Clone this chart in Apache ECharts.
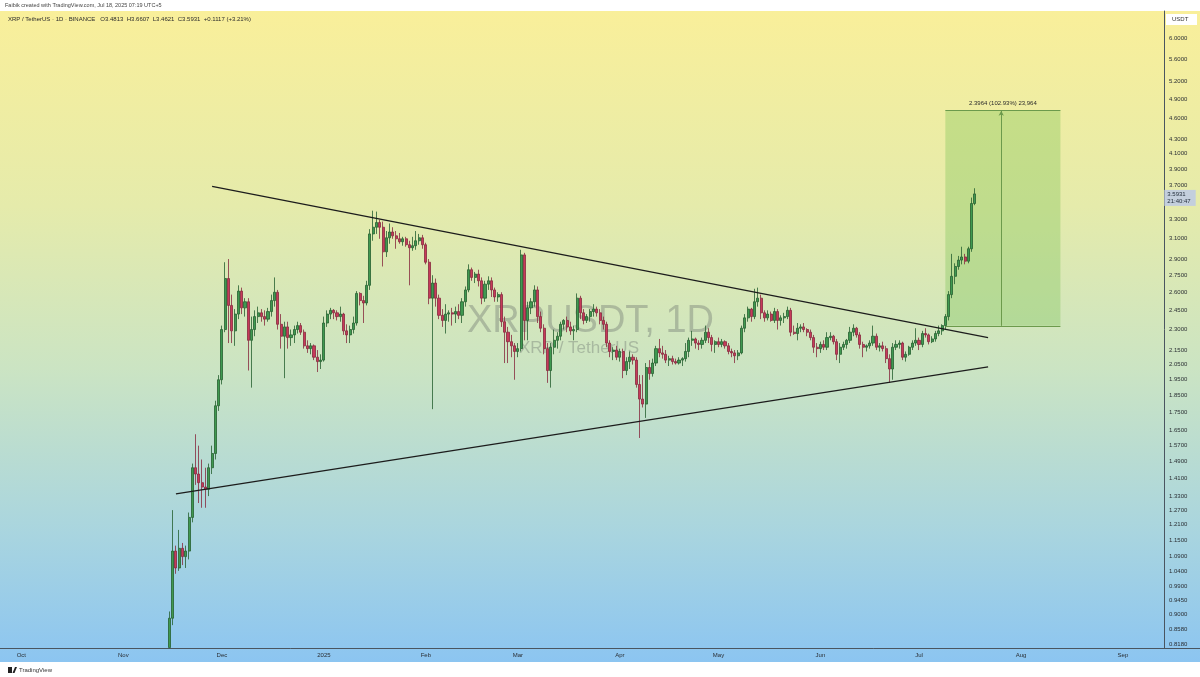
<!DOCTYPE html>
<html><head><meta charset="utf-8">
<script src="https://cdn.jsdelivr.net/npm/echarts@6/dist/echarts.min.js"></script>
<style>html,body{margin:0;padding:0;background:#fff}#c{width:1200px;height:677px}</style>
</head><body><div id="c"></div>
<script>
// ---------- axis data ----------
const startDate = '2024-09-25';
const dayCount = 354;
const firstCandleDate = '2024-11-15';
const monthTicks = ['2024-10-01','2024-11-01','2024-12-01','2025-01-01','2025-02-01','2025-03-01','2025-04-01','2025-05-01','2025-06-01','2025-07-01','2025-08-01','2025-09-01'];
const monthTickLabels = ['Oct','Nov','Dec','2025','Feb','Mar','Apr','May','Jun','Jul','Aug','Sep'];
const priceTicks = [6.0,5.6,5.2,4.9,4.6,4.3,4.1,3.9,3.7,3.3,3.1,2.9,2.75,2.6,2.45,2.3,2.15,2.05,1.95,1.85,1.75,1.65,1.57,1.49,1.41,1.33,1.27,1.21,1.15,1.09,1.04,0.99,0.945,0.90,0.858,0.818];
const priceMin = 0.807, priceMax = 6.557;

// ---------- daily candles [open, high, low, close] ----------
const candlesNov = [
[0.808,0.91,0.808,0.89],[0.89,1.27,0.87,1.11],[1.11,1.13,1.03,1.05],[1.05,1.19,1.04,1.12],
[1.12,1.14,1.06,1.09],[1.09,1.13,1.05,1.11],[1.11,1.26,1.08,1.24],[1.24,1.48,1.22,1.46],
[1.46,1.63,1.38,1.43],[1.43,1.57,1.30,1.39],[1.39,1.50,1.28,1.37],[1.37,1.46,1.28,1.36],
[1.36,1.48,1.33,1.46],[1.46,1.57,1.43,1.53],[1.53,1.82,1.50,1.79],[1.79,1.98,1.76,1.95]];
const candlesDec = [
[1.95,2.33,1.92,2.30],[2.30,2.87,2.28,2.72],[2.72,2.90,2.20,2.49],[2.49,2.58,2.20,2.29],
[2.29,2.46,2.18,2.42],[2.42,2.66,2.38,2.61],[2.61,2.64,2.42,2.47],[2.47,2.55,2.40,2.52],
[2.52,2.55,2.01,2.22],[2.22,2.40,1.90,2.30],[2.30,2.45,2.25,2.40],[2.40,2.48,2.35,2.43],
[2.43,2.46,2.36,2.40],[2.40,2.45,2.33,2.38],[2.38,2.47,2.36,2.44],[2.44,2.58,2.40,2.53],
[2.53,2.73,2.48,2.60],[2.60,2.62,2.30,2.34],[2.34,2.42,2.16,2.25],[2.25,2.36,1.96,2.32],
[2.32,2.36,2.16,2.24],[2.24,2.30,2.18,2.26],[2.26,2.33,2.20,2.30],[2.30,2.36,2.27,2.33],
[2.33,2.35,2.26,2.28],[2.28,2.30,2.16,2.18],[2.18,2.22,2.13,2.16],[2.16,2.20,2.12,2.18],
[2.18,2.19,2.08,2.10],[2.10,2.15,2.00,2.07],[2.07,2.12,2.02,2.08]];
const candlesJan = [
[2.08,2.40,2.07,2.35],[2.35,2.45,2.32,2.42],[2.42,2.47,2.38,2.45],[2.45,2.46,2.38,2.43],
[2.43,2.45,2.37,2.40],[2.40,2.48,2.36,2.42],[2.42,2.43,2.26,2.29],[2.29,2.34,2.20,2.26],
[2.26,2.33,2.20,2.30],[2.30,2.40,2.27,2.35],[2.35,2.61,2.33,2.59],[2.59,2.60,2.49,2.53],
[2.53,2.57,2.35,2.51],[2.51,2.70,2.49,2.66],[2.66,3.20,2.62,3.15],[3.15,3.40,3.08,3.22],
[3.22,3.39,3.15,3.27],[3.27,3.30,3.10,3.22],[3.22,3.28,2.83,2.97],[2.97,3.18,2.92,3.11],
[3.11,3.26,3.05,3.17],[3.17,3.22,3.10,3.13],[3.13,3.18,3.00,3.10],[3.10,3.16,3.05,3.07],
[3.07,3.12,3.03,3.10],[3.10,3.12,3.02,3.04],[3.04,3.08,2.66,3.01],[3.01,3.12,2.98,3.03],
[3.03,3.18,2.99,3.08],[3.08,3.15,3.04,3.11],[3.11,3.14,3.00,3.04]];
const candlesFeb = [
[3.04,3.06,2.85,2.87],[2.87,2.90,2.50,2.55],[2.55,2.75,1.77,2.68],[2.68,2.72,2.48,2.55],
[2.55,2.58,2.38,2.41],[2.41,2.46,2.32,2.37],[2.37,2.50,2.27,2.42],[2.42,2.45,2.36,2.43],
[2.43,2.47,2.33,2.42],[2.42,2.48,2.35,2.44],[2.44,2.50,2.38,2.41],[2.41,2.55,2.35,2.52],
[2.52,2.65,2.48,2.62],[2.62,2.85,2.60,2.80],[2.80,2.82,2.70,2.73],[2.73,2.78,2.68,2.76],
[2.76,2.80,2.65,2.70],[2.70,2.73,2.50,2.55],[2.55,2.70,2.52,2.67],[2.67,2.74,2.62,2.70],
[2.70,2.73,2.56,2.62],[2.62,2.64,2.52,2.56],[2.56,2.60,2.52,2.58],[2.58,2.60,2.32,2.36],
[2.36,2.40,2.06,2.28],[2.28,2.32,2.06,2.21],[2.21,2.26,2.10,2.18],[2.18,2.20,1.95,2.14]];
const candlesMar = [
[2.14,2.20,2.10,2.16],[2.16,2.99,2.14,2.94],[2.94,2.96,2.22,2.37],[2.37,2.52,2.22,2.47],
[2.47,2.55,2.42,2.52],[2.52,2.66,2.48,2.62],[2.62,2.65,2.35,2.40],[2.40,2.44,2.28,2.31],
[2.31,2.34,2.12,2.16],[2.16,2.20,1.93,2.01],[2.01,2.20,1.90,2.17],[2.17,2.30,2.12,2.22],
[2.22,2.28,2.16,2.25],[2.25,2.36,2.22,2.34],[2.34,2.38,2.30,2.37],[2.37,2.40,2.28,2.32],
[2.32,2.36,2.26,2.29],[2.29,2.33,2.22,2.30],[2.30,2.59,2.28,2.55],[2.55,2.57,2.38,2.43],
[2.43,2.46,2.34,2.37],[2.37,2.42,2.35,2.40],[2.40,2.46,2.36,2.44],[2.44,2.50,2.40,2.46],
[2.46,2.48,2.40,2.43],[2.43,2.46,2.34,2.37],[2.37,2.40,2.30,2.34],[2.34,2.36,2.17,2.20],
[2.20,2.22,2.10,2.14],[2.14,2.17,2.08,2.15],[2.15,2.18,2.08,2.10]];
const candlesApr = [
[2.10,2.16,2.07,2.14],[2.14,2.16,1.96,2.01],[2.01,2.10,1.98,2.07],[2.07,2.14,2.02,2.10],
[2.10,2.12,2.05,2.08],[2.08,2.10,1.90,1.92],[1.92,1.98,1.61,1.83],[1.83,1.98,1.78,1.80],
[1.80,2.06,1.72,2.03],[2.03,2.08,1.95,1.99],[1.99,2.09,1.97,2.06],[2.06,2.18,2.04,2.16],
[2.16,2.23,2.10,2.13],[2.13,2.18,2.09,2.12],[2.12,2.15,2.06,2.08],[2.08,2.11,2.04,2.09],
[2.09,2.11,2.05,2.07],[2.07,2.09,2.05,2.06],[2.06,2.10,2.05,2.08],[2.08,2.10,2.04,2.09],
[2.09,2.20,2.07,2.14],[2.14,2.24,2.10,2.22],[2.22,2.29,2.18,2.23],[2.23,2.24,2.16,2.20],
[2.20,2.22,2.15,2.19],[2.19,2.24,2.16,2.22],[2.22,2.33,2.20,2.28],[2.28,2.31,2.20,2.24],
[2.24,2.26,2.14,2.19],[2.19,2.22,2.13,2.21]];
const candlesMay = [
[2.21,2.24,2.17,2.19],[2.19,2.23,2.17,2.21],[2.21,2.22,2.16,2.18],[2.18,2.20,2.12,2.14],
[2.14,2.16,2.10,2.13],[2.13,2.15,2.06,2.11],[2.11,2.15,2.08,2.13],[2.13,2.33,2.12,2.31],
[2.31,2.42,2.28,2.39],[2.39,2.48,2.36,2.46],[2.46,2.47,2.36,2.40],[2.40,2.63,2.38,2.52],
[2.52,2.64,2.48,2.55],[2.55,2.58,2.38,2.43],[2.43,2.45,2.36,2.39],[2.39,2.45,2.37,2.42],
[2.42,2.44,2.36,2.37],[2.37,2.47,2.35,2.44],[2.44,2.46,2.30,2.37],[2.37,2.41,2.33,2.39],
[2.39,2.43,2.35,2.40],[2.40,2.48,2.38,2.45],[2.45,2.47,2.25,2.28],[2.28,2.33,2.26,2.27],
[2.27,2.35,2.22,2.31],[2.31,2.34,2.28,2.32],[2.32,2.35,2.28,2.30],[2.30,2.31,2.25,2.28],
[2.28,2.30,2.22,2.24],[2.24,2.26,2.13,2.17],[2.17,2.20,2.10,2.16]];
const candlesJun = [
[2.16,2.21,2.13,2.19],[2.19,2.22,2.15,2.17],[2.17,2.28,2.15,2.24],[2.24,2.28,2.22,2.25],
[2.25,2.26,2.19,2.21],[2.21,2.23,2.08,2.12],[2.12,2.20,2.06,2.17],[2.17,2.21,2.15,2.19],
[2.19,2.23,2.16,2.22],[2.22,2.32,2.20,2.28],[2.28,2.34,2.25,2.31],[2.31,2.32,2.24,2.26],
[2.26,2.28,2.16,2.19],[2.19,2.21,2.10,2.17],[2.17,2.19,2.14,2.18],[2.18,2.22,2.16,2.20],
[2.20,2.33,2.18,2.25],[2.25,2.27,2.15,2.17],[2.17,2.20,2.14,2.18],[2.18,2.21,2.14,2.16],
[2.16,2.18,2.06,2.09],[2.09,2.12,1.93,2.02],[2.02,2.20,1.95,2.17],[2.17,2.22,2.15,2.19],
[2.19,2.22,2.16,2.20],[2.20,2.21,2.08,2.10],[2.10,2.14,2.07,2.12],[2.12,2.18,2.11,2.17],
[2.17,2.22,2.15,2.20],[2.20,2.31,2.18,2.22]];
const candlesJul = [
[2.22,2.24,2.15,2.19],[2.19,2.29,2.17,2.27],[2.27,2.31,2.24,2.26],[2.26,2.27,2.19,2.21],
[2.21,2.25,2.20,2.23],[2.23,2.29,2.21,2.27],[2.27,2.33,2.25,2.29],[2.29,2.34,2.26,2.33],
[2.33,2.42,2.30,2.40],[2.40,2.61,2.37,2.58],[2.58,2.95,2.55,2.74],[2.74,2.86,2.67,2.83],
[2.83,2.93,2.80,2.89],[2.89,3.02,2.85,2.92],[2.92,2.95,2.85,2.88],[2.88,3.02,2.86,3.00],
[3.00,3.55,2.97,3.4813],[3.4813,3.6607,3.4621,3.5931]];

// ---------- drawings ----------
const upperTrend = [['2024-11-28', 3.682], ['2025-07-22', 2.239]];
const lowerTrend = [['2024-11-17', 1.34], ['2025-07-22', 2.034]];
const rangeStart = '2025-07-09', rangeEnd = '2025-08-13', rangeArrowDate = '2025-07-26';
const rangeLow = 2.3282, rangeHigh = 4.7246;
const rangeLabel = '2.3964 (102.93%) 23,964';
const lastPrice = 3.5931, lastPriceTimer = '21:40:47';
const headerText = 'Faibik created with TradingView.com, Jul 18, 2025 07:19 UTC+5';
const legendText = 'XRP / TetherUS · 1D · BINANCE   O3.4813  H3.6607  L3.4621  C3.5931  +0.1117 (+3.21%)';

// ---------- build ----------
const categories = [];
const t0 = Date.parse(startDate + 'T00:00:00Z');
for (let i = 0; i < dayCount; i++) categories.push(new Date(t0 + i * 864e5).toISOString().slice(0, 10));
const allCandles = [].concat(candlesNov, candlesDec, candlesJan, candlesFeb, candlesMar, candlesApr, candlesMay, candlesJun, candlesJul);
const startIdx = categories.indexOf(firstCandleDate);
const candleData = allCandles.map((c, i) => [categories[startIdx + i], c[0], c[3], c[2], c[1]]);

const chart = echarts.init(document.getElementById('c'), null, {renderer: 'canvas', width: 1200, height: 677});
const FONT = '"Liberation Sans", Arial, sans-serif';
chart.setOption({
  animation: false,
  backgroundColor: '#ffffff',
  textStyle: {fontFamily: FONT},
  grid: {left: 0, right: 36, top: 11, bottom: 29, containLabel: false},
  xAxis: {
    type: 'category', data: categories, boundaryGap: true,
    axisLine: {show: true, onZero: false, lineStyle: {color: '#4a5560', width: 1}},
    axisTick: {show: false}, splitLine: {show: false},
    axisLabel: {
      interval: (i, v) => monthTicks.indexOf(v) >= 0,
      formatter: v => monthTickLabels[monthTicks.indexOf(v)],
      fontSize: 6, color: '#2a2e33', margin: 4, hideOverlap: false
    }
  },
  yAxis: [
    {type: 'log', position: 'left', min: priceMin, max: priceMax,
     axisLine: {show: false}, axisTick: {show: false}, axisLabel: {show: false}, splitLine: {show: false}},
    {type: 'value', position: 'right', min: Math.log(priceMin), max: Math.log(priceMax),
     axisLine: {show: true, onZero: false, lineStyle: {color: '#4a5560', width: 1}},
     axisTick: {show: false}, splitLine: {show: false},
     axisLabel: {customValues: priceTicks.map(Math.log), formatter: v => Math.exp(v).toFixed(4),
                 fontSize: 6, color: '#2a2e33', margin: 5}}
  ],
  graphic: {elements: [
    {type: 'rect', z: -20, silent: true, shape: {x: 0, y: 11, width: 1200, height: 651},
     style: {fill: {type: 'linear', x: 0, y: 0, x2: 0, y2: 1, colorStops: [
       {offset: 0, color: '#f9ef9a'}, {offset: 0.3, color: '#e5ebab'}, {offset: 0.55, color: '#cbe4c3'},
       {offset: 0.8, color: '#a9d5df'}, {offset: 1, color: '#8cc5f1'}]}}},
    {type: 'line', z: -10, silent: true, shape: {x1: 1164, y1: 648.5, x2: 1200, y2: 648.5}, style: {stroke: '#4a5560', lineWidth: 1}},
    {type: 'text', z: -5, silent: true, left: 467, top: 303,
     style: {text: 'XRPUSDT, 1D', font: '38px ' + FONT, fill: 'rgba(105,112,108,0.38)'}},
    {type: 'text', z: -5, silent: true, left: 519, top: 340,
     style: {text: 'XRP / TetherUS', font: '17px ' + FONT, fill: 'rgba(105,112,108,0.38)'}},
    {type: 'text', left: 5, top: 2, style: {text: headerText, font: '5.5px ' + FONT, fill: '#444'}},
    {type: 'text', left: 8, top: 16, style: {text: legendText, font: '6px ' + FONT, fill: '#2b2b2b'}},
    {type: 'rect', shape: {x: 1166, y: 14, width: 31, height: 11}, style: {fill: '#ffffff'}},
    {type: 'text', left: 1172, top: 16.5, style: {text: 'USDT', font: '6px ' + FONT, fill: '#333'}},
    {type: 'rect', shape: {x: 8, y: 667, width: 4, height: 6}, style: {fill: '#222'}},
    {type: 'polygon', shape: {points: [[12.5, 673], [15, 667], [17, 667], [14.5, 673]]}, style: {fill: '#222'}},
    {type: 'text', left: 19, top: 667, style: {text: 'TradingView', font: '6px ' + FONT, fill: '#333'}}
  ]},
  series: [
    {type: 'candlestick', name: 'XRPUSDT', xAxisIndex: 0, yAxisIndex: 0, data: candleData,
     encode: {x: 0, y: [1, 2, 3, 4]}, barWidth: 2.6, clip: true, z: 2,
     itemStyle: {color: '#3f9950', color0: '#c73a5a', borderColor: '#265f30', borderColor0: '#86283e', borderWidth: 0.8}},
    {type: 'line', name: 'Last price', yAxisIndex: 0, data: [[categories[0], lastPrice], [categories[dayCount - 1], lastPrice]],
     symbol: 'none', showSymbol: false, clip: false, z: 5, lineStyle: {opacity: 0},
     endLabel: {show: true, distance: 2, offset: [0, 4], formatter: lastPrice.toFixed(4) + '\n' + lastPriceTimer,
               fontSize: 6, lineHeight: 7, color: '#1f2a36', backgroundColor: '#c3cfdd', padding: [1, 5, 1, 3]}},
    {type: 'line', name: 'Upper trend', yAxisIndex: 0, data: upperTrend, showSymbol: false, symbol: 'none', z: 4,
     lineStyle: {color: '#1c1c1c', width: 1.3}},
    {type: 'line', name: 'Lower trend', yAxisIndex: 0, data: lowerTrend, showSymbol: false, symbol: 'none', z: 4,
     lineStyle: {color: '#1c1c1c', width: 1.3}},
    {type: 'line', name: 'Price range', yAxisIndex: 0, data: [], z: 1,
     markArea: {silent: true, itemStyle: {color: 'rgba(115,190,80,0.33)'},
       label: {show: true, position: 'top', distance: 4, formatter: rangeLabel, fontSize: 6, color: '#2b2b2b'},
       data: [[{coord: [rangeStart, rangeLow]}, {coord: [rangeEnd, rangeHigh]}]]},
     markLine: {silent: true, symbol: 'none', label: {show: false},
       lineStyle: {color: '#6c9a4c', width: 1, type: 'solid'},
       data: [
         [{coord: [rangeStart, rangeHigh]}, {coord: [rangeEnd, rangeHigh]}],
         [{coord: [rangeStart, rangeLow]}, {coord: [rangeEnd, rangeLow]}],
         [{coord: [rangeArrowDate, rangeLow], symbol: 'none'}, {coord: [rangeArrowDate, rangeHigh], symbol: 'arrow', symbolSize: [4, 5]}]
       ]}}
  ]
});
</script></body></html>
